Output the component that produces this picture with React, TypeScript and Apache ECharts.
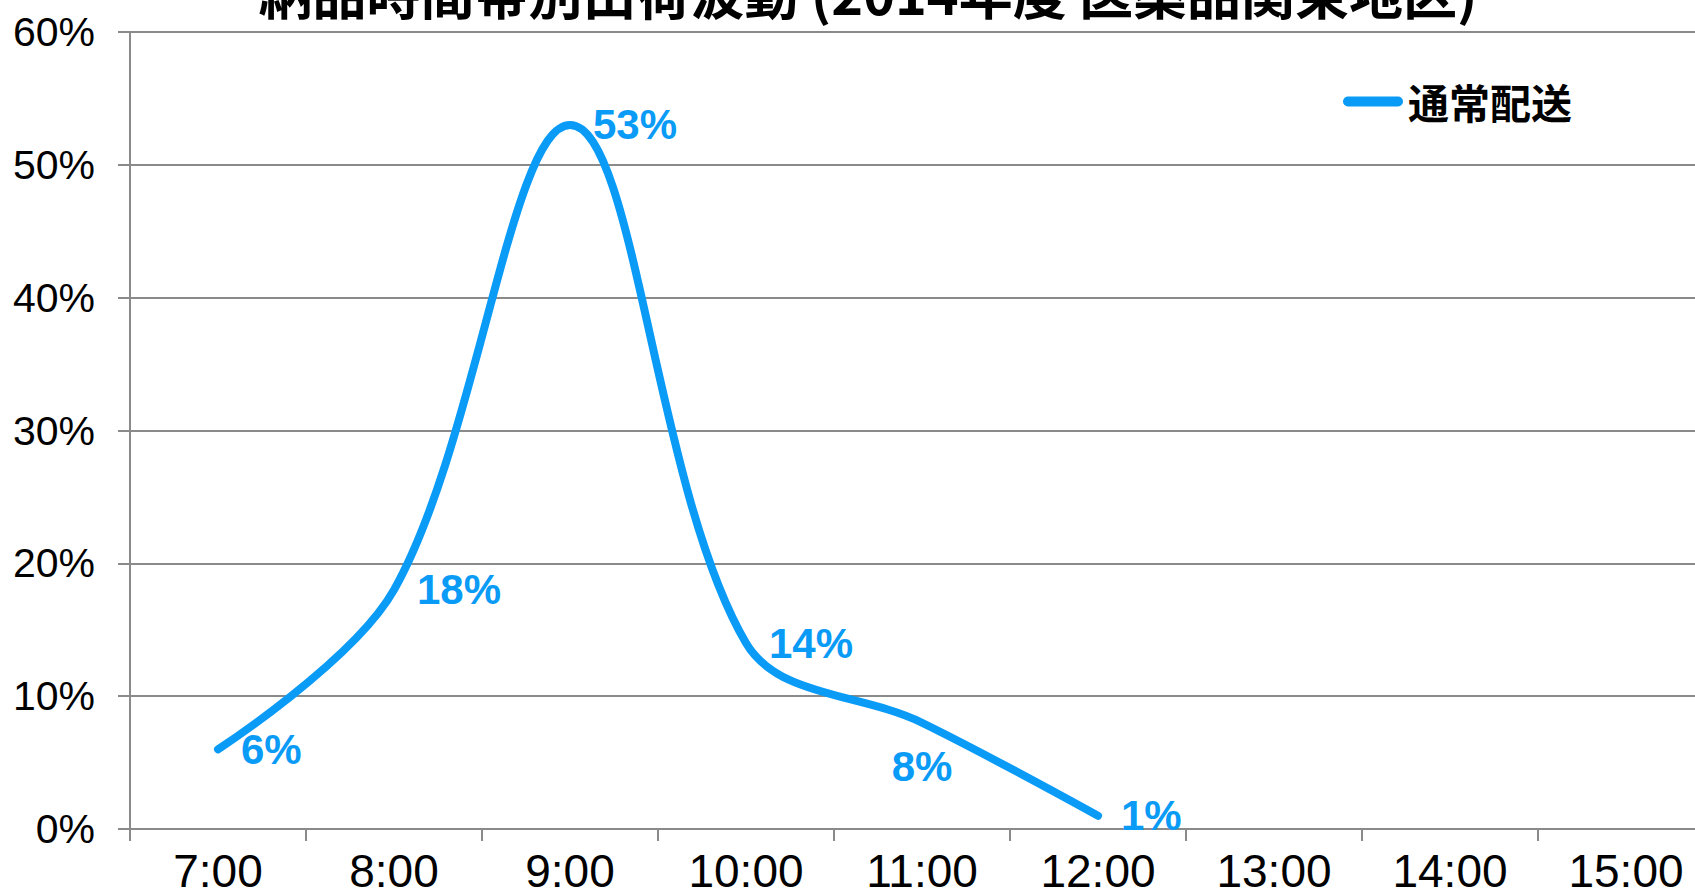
import { useEffect, useRef } from 'react';
import * as echarts from 'echarts';

const TITLE = '納品時間帯別出荷波動 (2014年度 医薬品関東地区)';
const SERIES_NAME = '通常配送';
const categories = ['7:00', '8:00', '9:00', '10:00', '11:00', '12:00', '13:00', '14:00', '15:00'];
const values = [6, 18, 53, 14, 8, 1];
const yMin = 0;
const yMax = 60;
const yStep = 10;

const BLUE = '#0A9BF7';
const GRID = '#8A8A8A';
const NUM_FONT = "'Liberation Sans', Arial, sans-serif";
const CJK_FONT = "'Noto Sans CJK JP', 'Noto Sans CJK SC', sans-serif";

export default function App() {
  const ref = useRef<HTMLDivElement>(null);

  useEffect(() => {
    if (!ref.current) return;
    const chart = echarts.init(ref.current, undefined, { renderer: 'svg' });
    const data = values.map((v, i) => ({
      value: v,
      label: i === 4 ? { position: 'bottom', distance: 22 } : undefined,
    }));
    chart.setOption({
      animation: false,
      backgroundColor: '#ffffff',
      graphic: [
        {
          type: 'text',
          x: 868,
          y: 31,
          style: {
            text: TITLE,
            align: 'center',
            verticalAlign: 'middle',
            fontSize: 54,
            fontWeight: 'bold',
            fontFamily: CJK_FONT,
            fill: '#000000',
          },
        },
      ],
      legend: {
        left: 1338,
        top: 116,
        itemWidth: 60,
        itemHeight: 10,
        icon: 'path://M5,0 L55,0 A5,5 0 0 1 55,10 L5,10 A5,5 0 0 1 5,0 Z',
        data: [SERIES_NAME],
        textStyle: {
          fontSize: 41,
          fontWeight: 'bold',
          fontFamily: CJK_FONT,
          color: '#000000',
        },
      },
      grid: {
        left: 130,
        right: 26,
        top: 72,
        bottom: 131,
        containLabel: false,
        outerBoundsMode: 'none',
      },
      xAxis: {
        type: 'category',
        data: categories,
        boundaryGap: true,
        axisLine: { lineStyle: { color: GRID, width: 2 } },
        axisTick: { show: true, length: 12, lineStyle: { color: GRID, width: 2 } },
        axisLabel: {
          margin: 22,
          fontSize: 46,
          lineHeight: 40,
          fontFamily: NUM_FONT,
          color: '#000000',
          interval: 0,
        },
        splitLine: { show: false },
      },
      yAxis: {
        type: 'value',
        min: yMin,
        max: yMax,
        interval: yStep,
        axisLine: { show: true, lineStyle: { color: GRID, width: 2 } },
        axisTick: { show: true, length: 12, lineStyle: { color: GRID, width: 2 } },
        axisLabel: {
          margin: 35,
          fontSize: 41,
          fontFamily: NUM_FONT,
          color: '#000000',
          formatter: '{value}%',
        },
        splitLine: { show: true, lineStyle: { color: GRID, width: 2 } },
      },
      series: [
        {
          name: SERIES_NAME,
          type: 'line',
          data,
          smooth: 0.35,
          symbol: 'circle',
          symbolSize: 2,
          itemStyle: { color: BLUE },
          lineStyle: { color: BLUE, width: 8, cap: 'round', join: 'round' },
          label: {
            show: true,
            position: 'right',
            distance: 22,
            formatter: '{c}%',
            fontSize: 42,
            fontWeight: 'bold',
            fontFamily: NUM_FONT,
            color: BLUE,
          },
        },
      ],
    });
    return () => chart.dispose();
  }, []);

  return (
    <div
      style={{
        position: 'fixed',
        left: 0,
        top: 0,
        width: 1695,
        height: 894,
        overflow: 'hidden',
        background: '#ffffff',
      }}
    >
      <div
        ref={ref}
        style={{ position: 'absolute', left: 0, top: -40, width: 1740, height: 1000 }}
      />
    </div>
  );
}
